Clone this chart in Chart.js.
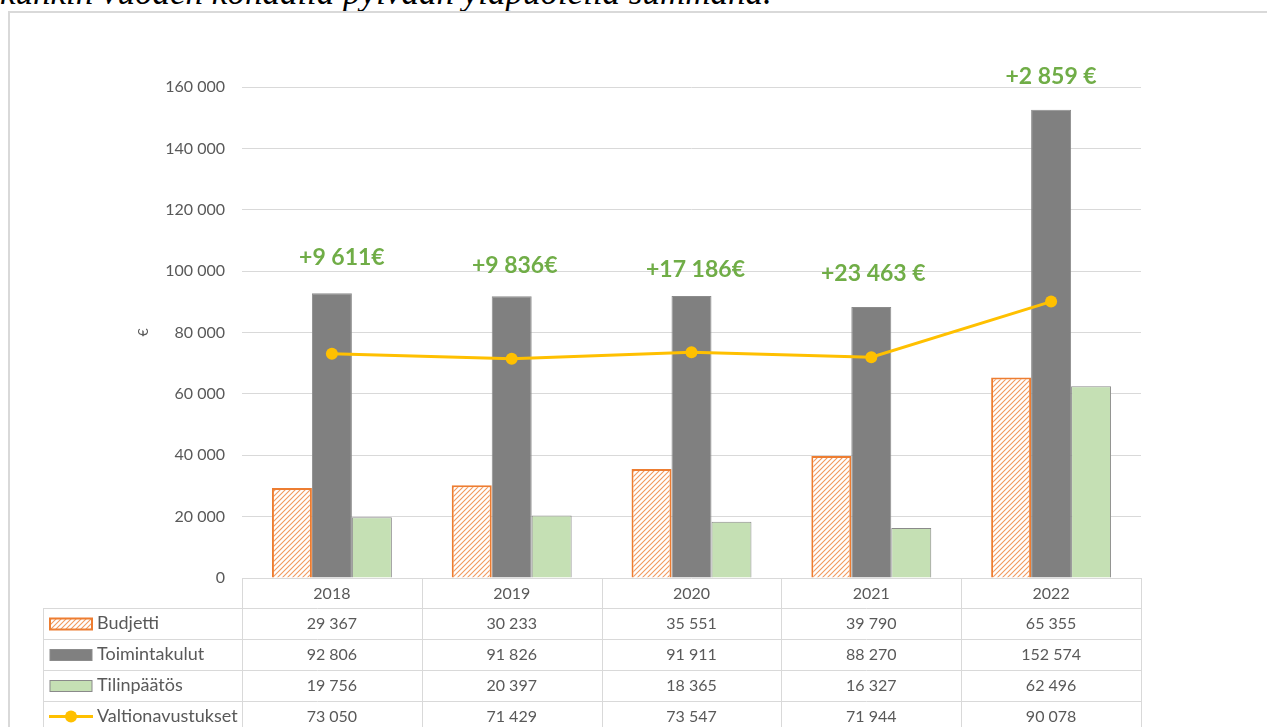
<!DOCTYPE html>
<html>
<head>
<meta charset="utf-8">
<script src="https://cdn.jsdelivr.net/npm/chart.js@4"></script>
<style>
    body { margin: 0; background: #fff; }
    #wrap { position: relative; width: 1267px; height: 727px; overflow: hidden; }
    #frame { position: absolute; left: 8px; top: 11px; width: 1300px; height: 800px; border: 2px solid #d9d9d9; }
    #teksti { position: absolute; left: 0; top: -25px; font: italic 35px/35px "Liberation Serif", serif; color: #000; white-space: nowrap; }
    #c { position: absolute; left: 0; top: 0; }
</style>
</head>
<body>
<div id="wrap">
    <div id="teksti">kunkin vuoden kohdalla pylvään yläpuolella summana.</div>
    <div id="frame"></div>
    <canvas id="c" width="1267" height="727"></canvas>
</div>
<script>
const vuodet = ['2018', '2019', '2020', '2021', '2022'];
const budjetti = [29367, 30233, 35551, 39790, 65355];
const toimintakulut = [92806, 91826, 91911, 88270, 152574];
const tilinpaatos = [19756, 20397, 18365, 16327, 62496];
const valtionavustukset = [73050, 71429, 73547, 71944, 90078];
const erotus = ['+9 611€', '+9 836€', '+17 186€', '+23 463 €', '+2 859 €'];

const fontti = 'Lato, "Noto Sans", sans-serif';
const harmaa = '#595959';

function muotoile(v) {
    return v.toString().replace(/\B(?=(\d{3})+(?!\d))/g, ' ');
}

const ctx = document.getElementById('c').getContext('2d');

function viivoitus() {
    const p = document.createElement('canvas');
    p.width = 5; p.height = 5;
    const g = p.getContext('2d');
    g.fillStyle = '#fff';
    g.fillRect(0, 0, 5, 5);
    g.strokeStyle = '#F19A5E';
    g.lineWidth = 1.1;
    g.beginPath();
    g.moveTo(0, 5); g.lineTo(5, 0);
    g.moveTo(-1, 1); g.lineTo(1, -1);
    g.moveTo(4, 6); g.lineTo(6, 4);
    g.stroke();
    return ctx.createPattern(p, 'repeat');
}

const kuvio = viivoitus();

// taulukko kaavion alle + vihreät summat
const taulukko = {
    id: 'taulukko',
    afterDatasetsDraw(chart) {
        const c = chart.ctx;
        const x = chart.scales.x;
        const a = chart.chartArea;
        const lev = (a.right - a.left) / vuodet.length;
        const rivi = 31;
        const y0 = a.bottom;
        const vasen = 43;

        // summat palkkien yllä
        const siirto = [36, 31, 26, 34, 33];
        const dx = [10, 3, 4, 2, 0];
        const meta = chart.getDatasetMeta(1);
        c.save();
        c.fillStyle = '#70AD47';
        c.font = 'bold 23px ' + fontti;
        c.textAlign = 'center';
        c.textBaseline = 'middle';
        for (let i = 0; i < erotus.length; i++) {
            const el = meta.data[i];
            c.fillText(erotus[i], el.x + dx[i], el.y - siirto[i]);
        }
        c.restore();

        c.save();
        c.strokeStyle = '#d9d9d9';
        c.lineWidth = 1;
        c.beginPath();
        for (let i = 0; i <= vuodet.length; i++) {
            const xx = Math.round(a.left + i * lev) + 0.5;
            c.moveTo(xx, y0);
            c.lineTo(xx, 727);
        }
        for (let r = 1; r <= 4; r++) {
            const yy = Math.round(y0 + 30 + (r - 1) * rivi) + 0.5;
            c.moveTo(vasen, yy);
            c.lineTo(a.right, yy);
        }
        c.moveTo(vasen + 0.5, y0 + 30);
        c.lineTo(vasen + 0.5, 727);
        c.stroke();

        c.fillStyle = harmaa;
        c.font = '16px ' + fontti;
        c.textAlign = 'center';
        c.textBaseline = 'middle';
        for (let i = 0; i < vuodet.length; i++) {
            c.fillText(vuodet[i], x.getPixelForValue(i), y0 + 16);
        }

        const sarjat = chart.data.datasets;
        sarjat.forEach(function (ds, r) {
            const yy = y0 + 30 + r * rivi + rivi / 2;
            // selite
            if (ds.type === 'line') {
                c.strokeStyle = ds.borderColor;
                c.lineWidth = 3;
                c.beginPath();
                c.moveTo(49, yy);
                c.lineTo(93, yy);
                c.stroke();
                c.fillStyle = ds.borderColor;
                c.beginPath();
                c.arc(71, yy, 6, 0, Math.PI * 2);
                c.fill();
            } else {
                c.fillStyle = ds.backgroundColor;
                c.fillRect(50, yy - 5, 42, 11);
                c.strokeStyle = ds.borderColor;
                c.lineWidth = ds.borderWidth;
                c.strokeRect(50, yy - 5, 42, 11);
            }
            c.fillStyle = harmaa;
            c.textAlign = 'left';
            c.font = '18px ' + fontti;
            c.fillText(ds.label, 97, yy);
            c.textAlign = 'center';
            c.font = '16px ' + fontti;
            for (let i = 0; i < ds.data.length; i++) {
                c.fillText(muotoile(ds.data[i]), x.getPixelForValue(i), yy);
            }
        });
        c.restore();
    }
};

new Chart(ctx, {
    type: 'bar',
    data: {
        labels: vuodet,
        datasets: [{
            label: 'Budjetti',
            data: budjetti,
            backgroundColor: kuvio,
            borderColor: '#ED7D31',
            borderWidth: 2,
            order: 1
        }, {
            label: 'Toimintakulut',
            data: toimintakulut,
            backgroundColor: '#808080',
            borderColor: '#8c8c8c',
            borderWidth: 1,
            order: 1
        }, {
            label: 'Tilinpäätös',
            data: tilinpaatos,
            backgroundColor: '#C5E0B4',
            borderColor: '#8a8a8a',
            borderWidth: 1,
            order: 1
        }, {
            type: 'line',
            label: 'Valtionavustukset',
            data: valtionavustukset,
            borderColor: '#FFC000',
            backgroundColor: '#FFC000',
            borderWidth: 3,
            pointRadius: 6,
            pointBorderWidth: 0,
            tension: 0,
            order: 0
        }]
    },
    options: {
        responsive: false,
        animation: false,
        layout: {
            padding: { left: 131, right: 126, top: 87, bottom: 0 }
        },
        datasets: {
            bar: {
                categoryPercentage: 0.667,
                barPercentage: 1
            }
        },
        plugins: {
            legend: { display: false },
            tooltip: { enabled: false }
        },
        scales: {
            x: {
                ticks: { display: false },
                grid: { display: false },
                border: { display: false },
                afterFit(scale) { scale.height = 149; }
            },
            y: {
                min: 0,
                max: 160000,
                ticks: {
                    stepSize: 20000,
                    color: harmaa,
                    padding: 17,
                    font: { family: fontti, size: 16 },
                    callback: function (v) { return muotoile(v); }
                },
                grid: { color: '#d9d9d9', drawTicks: false },
                border: { display: false },
                title: {
                    display: true,
                    text: '€',
                    color: harmaa,
                    font: { family: fontti, size: 14 }
                },
                afterFit(scale) { scale.width = 111; }
            }
        }
    },
    plugins: [taulukko]
});
</script>
</body>
</html>
